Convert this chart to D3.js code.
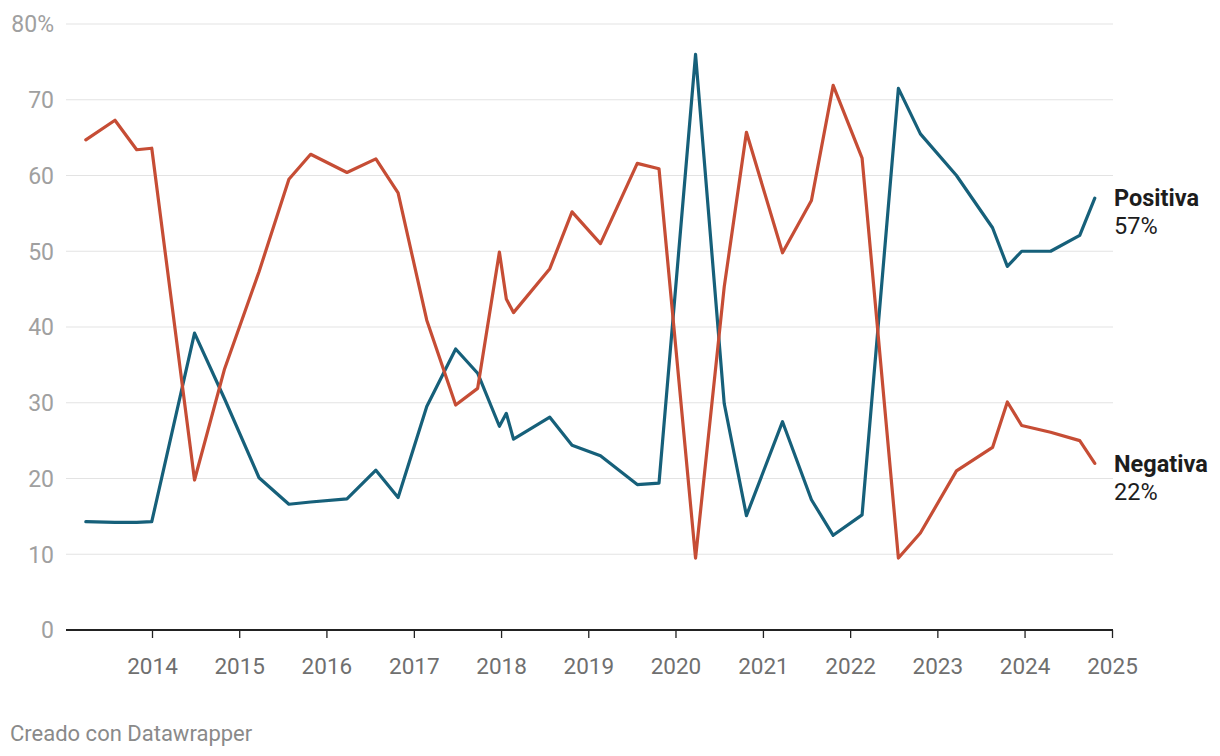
<!DOCTYPE html>
<html>
<head>
<meta charset="utf-8">
<script src="https://cdn.jsdelivr.net/npm/d3@7"></script>
<style>
  html, body { margin: 0; padding: 0; background: #fff; }
  svg { display: block; font-family: Roboto, "Noto Sans", sans-serif; }
</style>
</head>
<body>
<svg id="chart" width="1220" height="756"></svg>
<script>
// ---- data ----
const dates = ["2013-03-30","2013-07-30","2013-10-29","2013-12-31","2014-06-28","2014-11-01","2015-03-25","2015-07-28","2015-10-27","2016-03-27","2016-07-26","2016-10-27","2017-02-24","2017-06-25","2017-09-25","2017-12-25","2018-01-23","2018-02-22","2018-07-24","2018-10-25","2019-02-21","2019-07-25","2019-10-24","2020-03-25","2020-07-23","2020-10-24","2021-03-24","2021-07-23","2021-10-22","2022-02-20","2022-07-22","2022-10-22","2023-03-22","2023-08-20","2023-10-21","2023-12-20","2024-04-19","2024-08-19","2024-10-21"];
const positiva = [14.3,14.2,14.2,14.3,39.2,30.5,20.1,16.6,16.9,17.3,21.1,17.5,29.5,37.1,33.9,26.9,28.6,25.2,28.1,24.4,23.0,19.2,19.4,76.0,29.9,15.1,27.5,17.2,12.5,15.2,71.5,65.5,60.0,53.1,48.0,50.0,50.0,52.1,57.0];
const negativa = [64.7,67.3,63.4,63.6,19.8,34.5,47.3,59.5,62.8,60.4,62.2,57.7,40.9,29.7,31.9,49.9,43.7,41.9,47.7,55.2,51.0,61.6,60.9,9.5,45.3,65.7,49.8,56.7,71.9,62.3,9.5,12.8,21.0,24.1,30.1,27.0,26.1,25.0,22.0];
const seriesNames = ["Positiva","Negativa"];
const yTicks = [0,10,20,30,40,50,60,70,80];
const xTickYears = [2014,2015,2016,2017,2018,2019,2020,2021,2022,2023,2024,2025];
const footer = "Creado con Datawrapper";

// ---- layout ----
const svg = d3.select("#chart");
const plotLeft = 66, plotRight = 1113;
const parse = d3.timeParse("%Y-%m-%d");
const x = d3.scaleTime()
  .domain([new Date(2014,0,1), new Date(2025,0,1)])
  .range([152, 1112]);
const y = d3.scaleLinear().domain([0,80]).range([630,24]);

const colors = { Positiva: "#16607a", Negativa: "#c64d35" };

// grid
svg.append("g").selectAll("line")
  .data(yTicks.filter(d => d > 0))
  .join("line")
  .attr("x1", plotLeft).attr("x2", plotRight)
  .attr("y1", d => y(d)).attr("y2", d => y(d))
  .attr("stroke", "#e3e3e3").attr("stroke-width", 1);

// y labels
svg.append("g").selectAll("text")
  .data(yTicks)
  .join("text")
  .attr("x", 54)
  .attr("y", d => y(d))
  .attr("dy", "0.36em")
  .attr("text-anchor", "end")
  .attr("font-size", 23)
  .attr("fill", "#a0a0a0")
  .text(d => d === 80 ? d + "%" : d);

// x axis
const xAxis = d3.axisBottom(x)
  .tickValues(xTickYears.map(yr => new Date(yr,0,1)))
  .tickFormat(d3.timeFormat("%Y"))
  .tickSize(8)
  .tickPadding(20);
const gx = svg.append("g").attr("transform", `translate(0,${y(0)})`).call(xAxis);
gx.select(".domain").remove();
gx.selectAll(".tick line").attr("stroke", "#222").attr("stroke-width", 1.3);
gx.selectAll(".tick text").attr("font-size", 22.5).attr("fill", "#6f6f6f")
  .attr("font-family", "Roboto, sans-serif");
svg.append("line")
  .attr("x1", plotLeft).attr("x2", plotRight)
  .attr("y1", y(0)).attr("y2", y(0))
  .attr("stroke", "#222").attr("stroke-width", 2);

// lines
const line = d3.line().x(d => x(d.date)).y(d => y(d.v));
const series = [
  { name: "Positiva", values: dates.map((d,i) => ({ date: parse(d), v: positiva[i] })) },
  { name: "Negativa", values: dates.map((d,i) => ({ date: parse(d), v: negativa[i] })) }
];
svg.append("g").selectAll("path")
  .data(series)
  .join("path")
  .attr("d", s => line(s.values))
  .attr("fill", "none")
  .attr("stroke", s => colors[s.name])
  .attr("stroke-width", 3.2)
  .attr("stroke-linejoin", "round")
  .attr("stroke-linecap", "round");

// end labels
series.forEach(s => {
  const last = s.values[s.values.length - 1];
  const yy = y(last.v);
  const top = s.name === "Positiva" ? yy + 8 : yy + 9;
  const g = svg.append("g");
  g.append("text")
    .attr("x", 1114).attr("y", top)
    .attr("font-size", 23.5).attr("font-weight", "bold").attr("fill", "#1d1d1d")
    .text(s.name);
  g.append("text")
    .attr("x", 1114).attr("y", top + 28)
    .attr("font-size", 23.5).attr("fill", "#1d1d1d")
    .text(Math.round(last.v) + "%");
});

// footer
svg.append("text")
  .attr("x", 10).attr("y", 741)
  .attr("font-size", 22).attr("fill", "#8a8a8a")
  .text(footer);
</script>
</body>
</html>
